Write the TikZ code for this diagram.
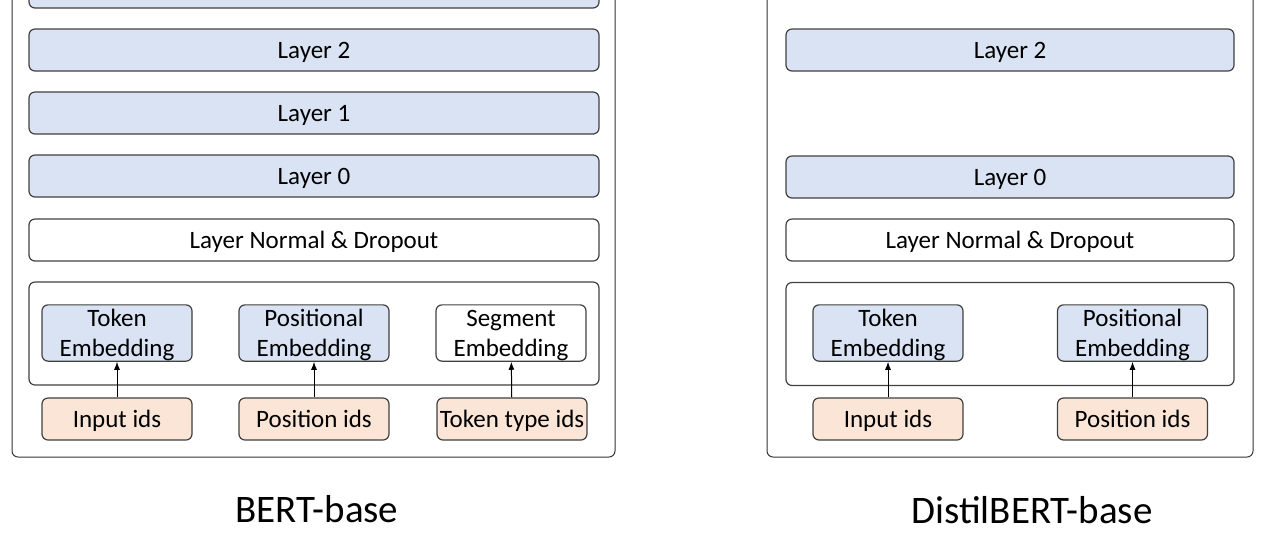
\documentclass[tikz,border=0pt]{standalone}
\usepackage{fontspec}
\setmainfont{Carlito}
\usetikzlibrary{arrows.meta}
\definecolor{layerblue}{HTML}{DAE3F3}
\definecolor{idorange}{HTML}{FBE5D6}
\definecolor{edge}{HTML}{404040}
\newcommand\lnstrut{\rule[-2pt]{0pt}{13pt}}
\begin{document}
\begin{tikzpicture}[x=0.5pt,y=-0.5pt,
    box/.style={shape=rectangle,draw=edge,line width=0.6pt,rounded corners=3pt,inner sep=0pt,
      font=\fontsize{12.5}{15}\selectfont,align=center},
    line/.style={text height=10pt,text depth=2pt},
    layer/.style={box,line,fill=layerblue,minimum height=21pt},
    emb/.style={box,minimum width=75pt,minimum height=28pt},
    ids/.style={box,line,fill=idorange,minimum width=75pt,minimum height=21pt},
    frame/.style={shape=rectangle,draw=black!80,line width=0.5pt,rounded corners=3pt,inner sep=0pt},
    caption/.style={font=\fontsize{19.5}{23}\selectfont}]
    \useasboundingbox (0,0) rectangle (1264,538);

    % BERT-base
    \node[frame,minimum width=301.5pt,minimum height=243.5pt] (bertframe) at (313.5,213.5) {};
    \node[layer,minimum width=285pt] (bl3) at (314,-13) {};
    \node[layer,minimum width=285pt] (bl2) at (314,50) {Layer 2};
    \node[layer,minimum width=285pt] (bl1) at (314,113) {Layer 1};
    \node[layer,minimum width=285pt] (bl0) at (314,176) {Layer 0};
    \node[box,line,minimum width=285pt,minimum height=21pt] (bnorm) at (314,240) {Layer Normal \& Dropout};
    \node[box,minimum width=285pt,minimum height=51.5pt] (bembs) at (314,333.5) {};
    \node[emb,fill=layerblue] (btok) at (117,333) {\lnstrut Token\\\lnstrut Embedding};
    \node[emb,fill=layerblue] (bpos) at (314,333) {\lnstrut Positional\\\lnstrut Embedding};
    \node[emb] (bseg) at (511,333) {\lnstrut Segment\\\lnstrut Embedding};
    \node[ids] (binput) at (117,419) {Input ids};
    \node[ids] (bposid) at (314,419) {Position ids};
    \node[ids] (btype) at (512,419) {Token type ids};
    \node[caption] (bertcap) at (317,509) {BERT-base};

    \draw[-{Latex[length=4pt,width=3pt]},line width=0.5pt] (binput) -- (btok);
    \draw[-{Latex[length=4pt,width=3pt]},line width=0.5pt] (bposid) -- (bpos);
    \draw[-{Latex[length=4pt,width=3pt]},line width=0.5pt] (btype) -- (bseg);

    % DistilBERT-base
    \node[frame,minimum width=243pt,minimum height=243.5pt] (distframe) at (1010,213.5) {};
    \node[layer,minimum width=224pt] (dl2) at (1010,50) {Layer 2};
    \node[layer,minimum width=224pt] (dl0) at (1010,177) {Layer 0};
    \node[box,line,minimum width=224pt,minimum height=21pt] (dnorm) at (1010,240) {Layer Normal \& Dropout};
    \node[box,minimum width=224pt,minimum height=51.5pt] (dembs) at (1010,334) {};
    \node[emb,fill=layerblue] (dtok) at (888,333) {\lnstrut Token\\\lnstrut Embedding};
    \node[emb,fill=layerblue] (dpos) at (1132.5,333) {\lnstrut Positional\\\lnstrut Embedding};
    \node[ids] (dinput) at (888,419) {Input ids};
    \node[ids] (dposid) at (1132.5,419) {Position ids};
    \node[caption] (distcap) at (1032,510) {DistilBERT-base};

    \draw[-{Latex[length=4pt,width=3pt]},line width=0.5pt] (dinput) -- (dtok);
    \draw[-{Latex[length=4pt,width=3pt]},line width=0.5pt] (dposid) -- (dpos);
  \end{tikzpicture}
\end{document}
